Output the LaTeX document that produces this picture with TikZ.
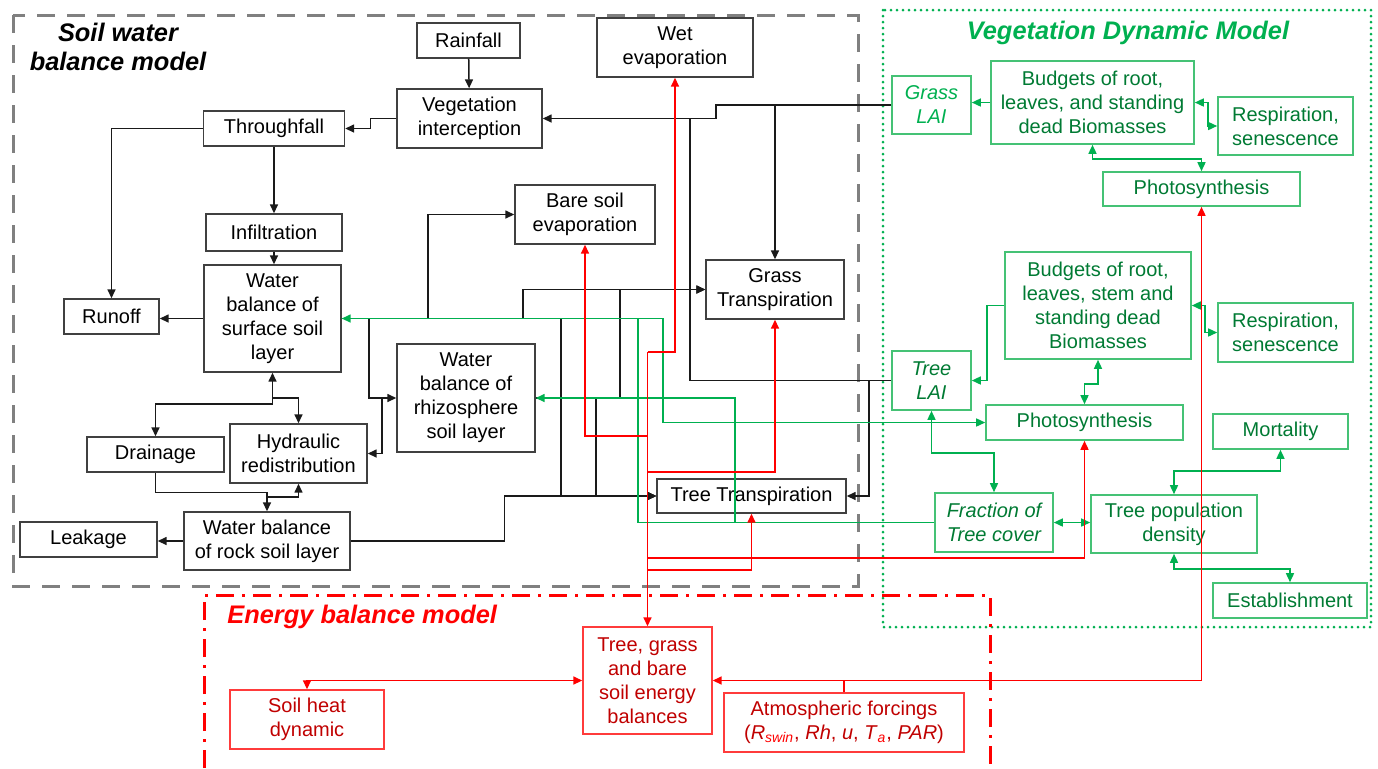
\documentclass[tikz,border=0pt]{standalone}
\usepackage{fontspec}
\setmainfont{Liberation Sans}
\usetikzlibrary{arrows.meta}
\definecolor{swgray}{HTML}{808080}
\definecolor{swline}{HTML}{1A1A1A}
\definecolor{swbox}{HTML}{404040}
\definecolor{vgline}{HTML}{00B050}
\definecolor{vgbox}{HTML}{45C275}
\definecolor{vgtext}{HTML}{007A33}
\definecolor{ebline}{HTML}{FF0000}
\definecolor{ebbox}{HTML}{FF3B3B}
\definecolor{ebtext}{HTML}{C00000}

\begin{document}
\begin{tikzpicture}[
  x=0.5pt,y=-0.5pt,
  font=\fontsize{10}{12}\selectfont,
  >={Triangle[length=4.5pt,width=4pt]},
  sz/.style 2 args={minimum width=#1*0.5pt,minimum height=#2*0.5pt},
  wb/.style={draw=swbox,line width=0.7pt,inner sep=0pt,align=center},
  vg/.style={draw=vgbox,line width=0.8pt,inner sep=0pt,align=center,text=vgtext},
  eb/.style={draw=ebbox,line width=0.7pt,inner sep=0pt,align=center,text=ebtext},
  it/.style={font=\fontsize{10}{12}\selectfont\itshape},
  title/.style={font=\fontsize{12.7}{14.5}\selectfont\bfseries\itshape,align=center,inner sep=0pt},
  ln/.style={draw=swline,line width=0.75pt},
  arr/.style={->,draw=swline,line width=0.75pt},
  garr/.style={->,draw=vgline,line width=0.75pt},
  rarr/.style={->,draw=ebline,line width=0.8pt},
]
\useasboundingbox (0,0) rectangle (1378,768);

% Model frames
\draw[swgray,line width=1.5pt,dash pattern=on 9pt off 6pt] (13,15) rectangle (858,586);
\draw[vgline,line width=1.5pt,line cap=round,dash pattern=on 0pt off 3pt] (883,10) rectangle (1371,627);
\draw[ebline,line width=1.5pt,dash pattern=on 9pt off 4pt on 1.5pt off 4pt] (204,768) -- (204,595) -- (990,595) -- (990,768);

\node[title] (swt) at (118,47) {Soil water\\balance model};
\node[title,text=vgline] (vgt) at (1128,33) {Vegetation Dynamic Model};
\node[title,text=ebline,anchor=west] (ebt) at (227,617) {Energy balance model};

% Soil water balance boxes
\node[wb,sz={103}{35}] (rain) at (468.5,40.5) {Rainfall};
\node[wb,sz={145}{59}] (intc) at (469.5,118.5) {Vegetation\\interception};
\node[wb,sz={156}{59}] (wetev) at (675,47.5) {Wet\\evaporation};
\node[wb,sz={141}{35}] (thru) at (274,128.5) {Throughfall};
\node[wb,sz={136}{37}] (infl) at (274,232.5) {Infiltration};
\node[wb,sz={140}{59}] (bare) at (585,214.5) {Bare soil\\evaporation};
\node[wb,sz={138}{59}] (grtr) at (775,289.5) {Grass\\Transpiration};
\node[wb,sz={137}{107}] (surf) at (272.5,318.5) {Water\\balance of\\surface soil\\layer};
\node[wb,sz={95}{35}] (runoff) at (111.5,316.5) {Runoff};
\node[wb,sz={138}{108}] (rhizo) at (466,398) {Water\\balance of\\rhizosphere\\soil layer};
\node[wb,sz={137}{35}] (drain) at (155.5,454.5) {Drainage};
\node[wb,sz={137}{59}] (hydr) at (298.5,453.5) {Hydraulic\\redistribution};
\node[wb,sz={189}{34}] (trtr) at (751.5,496) {Tree Transpiration};
\node[wb,sz={166}{58}] (rock) at (267,541) {Water balance\\of rock soil layer};
\node[wb,sz={137}{35}] (leak) at (88.5,539.5) {Leakage};

% Vegetation dynamic boxes
\node[vg,it,text=vgline,sz={79}{58}] (glai) at (931.5,105) {Grass\\LAI};
\node[vg,sz={203}{83}] (bud1) at (1092.5,102.5) {Budgets of root,\\leaves, and standing\\dead Biomasses};
\node[vg,sz={135}{58}] (resp1) at (1285.5,126) {Respiration,\\senescence};
\node[vg,sz={197}{34}] (pho1) at (1201.5,189) {Photosynthesis};
\node[vg,sz={186}{107}] (bud2) at (1098,305.5) {Budgets of root,\\leaves, stem and\\standing dead\\Biomasses};
\node[vg,sz={135}{59}] (resp2) at (1285.5,332.5) {Respiration,\\senescence};
\node[vg,it,sz={79}{59}] (tlai) at (931.5,380.5) {Tree\\LAI};
\node[vg,sz={197}{35}] (pho2) at (1084.5,422.5) {Photosynthesis};
\node[vg,sz={135}{35}] (mort) at (1280.5,431.5) {Mortality};
\node[vg,it,sz={118}{59}] (frac) at (994,522.5) {Fraction of\\Tree cover};
\node[vg,sz={166}{58}] (tpop) at (1174,524) {Tree population\\density};
\node[vg,sz={154}{35}] (estab) at (1290,600.5) {Establishment};

% Energy balance boxes
\node[eb,sz={129}{107}] (ebal) at (647.5,680.5) {Tree, grass\\and bare\\soil energy\\balances};
\node[eb,sz={154}{59}] (heat) at (307,719.5) {Soil heat\\dynamic};
\node[eb,sz={240}{59}] (atm) at (844,722.5) {Atmospheric forcings\\(\textit{R}\textsubscript{\textit{\color{ebline}swin}}, \textit{Rh}, \textit{u}, \textit{T}\textsubscript{\textit{\color{ebline}a}}, \textit{PAR})};

% Water fluxes
\draw[arr] (rain) -- (intc);
\draw[arr] (intc.west) -- ++(-26,0) |- (thru.east);
\draw[arr] (thru.west) -| (runoff.north);
\draw[arr] (thru) -- (infl);
\draw[arr] (infl.south) -- (infl.south |- surf.north);
\draw[arr] (surf.west) -- (surf.west -| runoff.east);
\draw[arr,<->] (surf.south) -- ++(0,31.5) -| (drain.north);
\draw[arr] (272.5,398) -| (hydr.north);
\draw[arr] (drain.south) -- ++(0,20) -| (rock.north);
\draw[arr] (267,497) -| (hydr.south);
\draw[arr] (rock.west) -- (rock.west -| leak.east);
\draw[arr] (rock.east) -- ++(154,0) |- (trtr.west);

% Soil layers to sinks
\draw[ln] (surf.east) -- (561,318.5);
\draw[arr] (369,318.5) |- (rhizo.west);
\draw[arr] (382,398) |- (hydr.east);
\draw[arr] (428,318.5) |- (bare.west);
\draw[arr] (523,318.5) |- (grtr.west);
\draw[arr] (561,318.5) |- (trtr.west);
\draw[ln] (rhizo.east) -- (620,398);
\draw[arr] (620,398) |- (grtr.west);
\draw[arr] (596,398) |- (trtr.west);

% LAI controls
\draw[arr] (glai.west) -- ++(-175,0) |- (intc.east);
\draw[arr] (775,105) -- (grtr.north);
\draw[ln] (tlai.west) -| (690,118.5);
\draw[arr] (869,380.5) |- (trtr.east);

% Vegetation links
\draw[garr] (frac.west) -| (638,318.5) -- (surf.east);
\draw[garr] (surf.east) -- (663,318.5) |- (pho2.west);
\draw[garr] (735,522.5) |- (rhizo.east);
\draw[garr] (bud1.west) -- (bud1.west -| glai.east);
\draw[garr,<->] (bud1.east) -- ++(13,0) |- (resp1.west);
\draw[garr,<->] (bud1.south) -- ++(0,14) -| (pho1.north);
\draw[garr] (bud2.west) -- ++(-17,0) |- (tlai.east);
\draw[garr,<->] (bud2.east) -- ++(13,0) |- (resp2.west);
\draw[garr,<->] (bud2.south) -- ++(0,24) -| (pho2.north);
\draw[garr,<->] (tlai.south) -- ++(0,42) -| (frac.north);
\draw[garr,<->] (frac.east) -- (frac.east -| tpop.west);
\draw[garr,<->] (tpop.north) -- ++(0,-23) -| (mort.south);
\draw[garr,<->] (tpop.south) -- ++(0,15) -| (estab.north);

% Energy links
\draw[rarr] (647.5,352) -- (ebal.north);
\draw[rarr] (647.5,352) -| (wetev.south);
\draw[rarr] (647.5,436) -| (bare.south);
\draw[rarr] (647.5,472) -| (grtr.south);
\draw[rarr] (647.5,558) -| (pho2.south);
\draw[rarr] (647.5,570) -| (trtr.south);
\draw[rarr] (pho1.south |- ebal.east) -- (ebal.east);
\draw[rarr] (pho1.south |- ebal.east) -- (pho1.south);
\draw[ebline,line width=0.8pt] (atm.north) -- (atm.north |- ebal.east);
\draw[rarr,<->] (ebal.west) -| (heat.north);
\end{tikzpicture}
\end{document}
